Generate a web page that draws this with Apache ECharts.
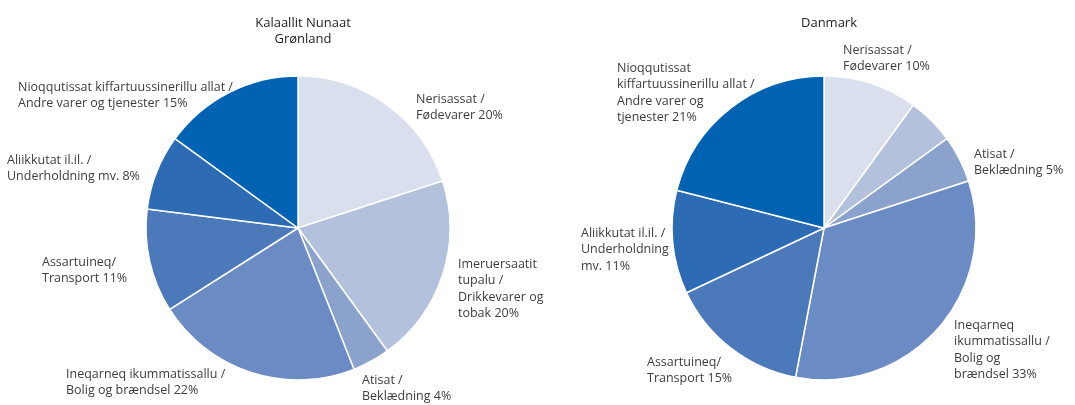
<!DOCTYPE html>
<html>
<head>
<meta charset="utf-8">
<script src="https://cdn.jsdelivr.net/npm/echarts@6/dist/echarts.min.js"></script>
<style>
html,body{margin:0;padding:0;background:#fff;}
#c{width:1075px;height:405px;}
</style>
</head>
<body>
<div id="c"></div>
<script>
// ---- data ----
const titles = ['Kalaallit Nunaat\nGrønland', 'Danmark'];
const leftNames = [
  'Nerisassat /\nFødevarer',
  'Imeruersaatit\ntupalu /\nDrikkevarer og\ntobak',
  'Atisat /\nBeklædning',
  'Ineqarneq ikummatissallu /\nBolig og brændsel',
  'Assartuineq/\nTransport',
  'Aliikkutat il.il. /\nUnderholdning mv.',
  'Nioqqutissat kiffartuussinerillu allat /\nAndre varer og tjenester'
];
const leftValues = [20, 20, 4, 22, 11, 8, 15];
const rightNames = [
  'Nerisassat /\nFødevarer',
  'Imeruersaatit tupalu /\nDrikkevarer og tobak',
  'Atisat /\nBeklædning',
  'Ineqarneq\nikummatissallu /\nBolig og\nbrændsel',
  'Assartuineq/\nTransport',
  'Aliikkutat il.il. /\nUnderholdning\nmv.',
  'Nioqqutissat\nkiffartuussinerillu allat /\nAndre varer og\ntjenester'
];
const rightValues = [10, 5, 5, 33, 15, 11, 21];
const rightLabelShown = [true, false, true, true, true, true, true];

// ---- styling / layout ----
const colors = ['#d9dfec', '#b3c1dd', '#8ba3cc', '#6a8bc3', '#4c79ba', '#2d6cb4', '#0062b2'];
const leftLabelPos = [[416, 91], [458, 256], [362, 372], [66, 366], [42, 254], [7, 152], [18, 79]];
const rightLabelPos = [[843, 42], [0, 0], [974, 146], [954, 317], [647, 354], [581, 225], [617, 60]];
const FONT = 'Open Sans';

function makeData(names, values, shown) {
  return names.map((n, i) => ({
    name: n,
    value: values[i],
    itemStyle: { color: colors[i] },
    label: { show: shown ? shown[i] : true }
  }));
}

function layoutFn(pos) {
  return function (p) {
    const xy = pos[p.dataIndex];
    return { x: xy[0], y: xy[1], align: 'left', verticalAlign: 'top' };
  };
}

const commonSeries = {
  type: 'pie',
  radius: 152,
  startAngle: 90,
  clockwise: true,
  animation: false,
  silent: true,
  avoidLabelOverlap: false,
  itemStyle: { borderColor: '#ffffff', borderWidth: 1.5 },
  labelLine: { show: false },
  label: {
    show: true,
    position: 'outside',
    alignTo: 'none',
    overflow: 'none',
    width: 400,
    color: '#3d3d3d',
    fontFamily: FONT,
    fontSize: 12.5,
    lineHeight: 16.5,
    formatter: p => p.name + ' ' + p.value + '%'
  }
};

const chart = echarts.init(document.getElementById('c'), null, { renderer: 'canvas' });
chart.setOption({
  backgroundColor: '#ffffff',
  title: [
    { text: titles[0], left: 298, top: 10, textAlign: 'center',
      textStyle: { fontFamily: FONT, fontSize: 13, fontWeight: 'normal', color: '#222', lineHeight: 16 } },
    { text: titles[1], left: 824, top: 10, textAlign: 'center',
      textStyle: { fontFamily: FONT, fontSize: 13, fontWeight: 'normal', color: '#222', lineHeight: 16 } }
  ],
  series: [
    Object.assign({}, commonSeries, {
      center: [298, 228],
      data: makeData(leftNames, leftValues),
      labelLayout: layoutFn(leftLabelPos)
    }),
    Object.assign({}, commonSeries, {
      center: [824, 228],
      data: makeData(rightNames, rightValues, rightLabelShown),
      labelLayout: layoutFn(rightLabelPos)
    })
  ]
});
</script>
</body>
</html>
